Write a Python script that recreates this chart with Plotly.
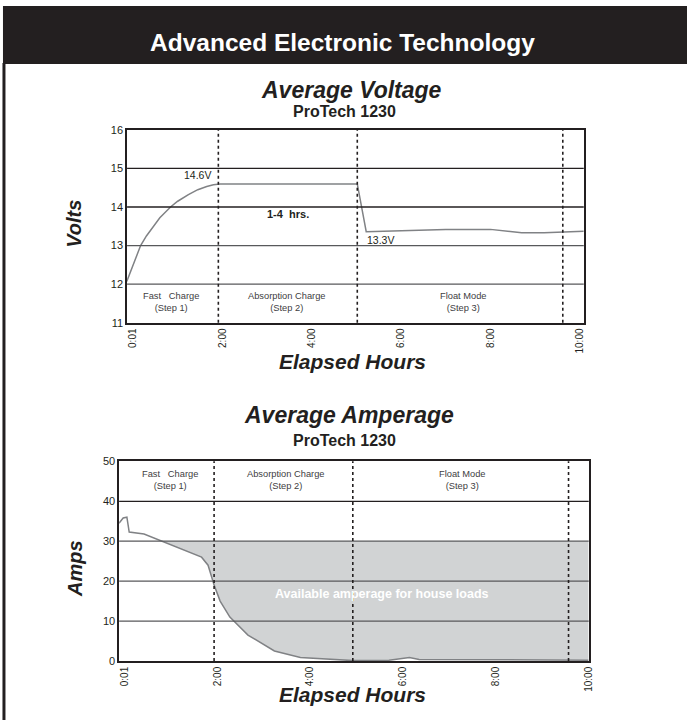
import plotly.graph_objects as go

# ---------------- data ----------------
tick_hours = [0, 2, 4, 6, 8, 10]
tick_labels = ["0:01", "2:00", "4:00", "6:00", "8:00", "10:00"]

volt_hours = [-0.14, -0.05, 0.05, 0.17, 0.3, 0.45, 0.6, 0.84, 1.0, 1.24, 1.45, 1.65, 1.8, 1.95,
              5.02, 5.22, 6.28, 7.0, 8.0, 8.45, 8.7, 9.2, 9.7, 10.09]
volt_values = [12.07, 12.35, 12.65, 13.0, 13.25, 13.5, 13.72, 14.0, 14.15, 14.32, 14.45, 14.53, 14.58, 14.6,
               14.6, 13.36, 13.39, 13.42, 13.42, 13.37, 13.33, 13.33, 13.35, 13.37]
volt_ticks = [11, 12, 13, 14, 15, 16]
volt_grid = [12, 13, 14, 15]
volt_phase_bounds = [1.91, 5.02, 9.62]

amp_hours = [-0.12, -0.03, 0.05, 0.1, 0.42, 0.8, 1.2, 1.66, 1.8, 1.93, 2.06, 2.27, 2.66,
             3.23, 3.79, 4.5, 4.92, 5.7, 6.0, 6.14, 6.35, 8.0, 9.5, 9.85, 10.0]
amp_values = [34.5, 35.8, 36.0, 32.3, 31.8, 30.0, 28.1, 26.0, 24.0, 19.0, 15.0, 11.0, 6.5,
              2.5, 0.9, 0.3, 0.1, 0.2, 0.7, 0.9, 0.4, 0.35, 0.35, 0.3, 0.2]
amp_ticks = [0, 10, 20, 30, 40, 50]
amp_grid = [10, 20, 30, 40]
amp_phase_bounds = [1.93, 4.92, 9.57]
house_load_limit = 30

phase_names = ["Fast   Charge<br>(Step 1)", "Absorption Charge<br>(Step 2)", "Float Mode<br>(Step 3)"]
volt_phase_centers = [0.84, 3.44, 7.4]
amp_phase_centers = [0.99, 3.49, 7.29]

# ---------------- helpers ----------------
W, H = 692, 726


def px(x):
    return x / W


def py(y):
    return 1 - y / H


FONT = "Liberation Sans Narrow, Arial Narrow, Liberation Sans, Arial, sans-serif"
INK = "#231f20"
CURVE = "#808285"
FILL = "#d1d3d4"

fig = go.Figure()

# voltage curve
fig.add_trace(go.Scatter(x=volt_hours, y=volt_values, mode="lines", xaxis="x", yaxis="y",
                         line=dict(color=CURVE, width=1.5),
                         hoverinfo="skip", showlegend=False))

# amperage: available region (between curve and the house-load limit)
start = amp_values.index(house_load_limit)
fill_x = amp_hours[start:]
fill_y = amp_values[start:]
fig.add_trace(go.Scatter(x=[fill_x[0], fill_x[-1]], y=[house_load_limit, house_load_limit],
                         mode="lines", xaxis="x2", yaxis="y2", line=dict(width=0, color=FILL),
                         hoverinfo="skip", showlegend=False))
fig.add_trace(go.Scatter(x=fill_x, y=fill_y, mode="lines", xaxis="x2", yaxis="y2",
                         fill="tonexty", fillcolor=FILL, line=dict(width=0, color=FILL),
                         hoverinfo="skip", showlegend=False))
fig.add_trace(go.Scatter(x=amp_hours, y=amp_values, mode="lines", xaxis="x2", yaxis="y2",
                         line=dict(color=CURVE, width=1.5), hoverinfo="skip", showlegend=False))

shapes = []
# header band
shapes.append(dict(type="rect", xref="paper", yref="paper", x0=px(3), x1=1, y0=py(59), y1=1,
                   fillcolor=INK, line=dict(width=0), layer="below"))
# left border line
shapes.append(dict(type="line", xref="paper", yref="paper", x0=px(4), x1=px(4), y0=0, y1=py(58),
                   line=dict(color=INK, width=3)))

for v in volt_grid:
    col = INK if v >= 14 else "#58595b"
    shapes.append(dict(type="line", xref="x domain", yref="y", x0=0, x1=1, y0=v, y1=v,
                       line=dict(color=col, width=1.3), layer="above"))
for a in amp_grid:
    col = INK if a >= 40 else "#58595b"
    shapes.append(dict(type="line", xref="x2 domain", yref="y2", x0=0, x1=1, y0=a, y1=a,
                       line=dict(color=col, width=1.3), layer="above"))
for b in volt_phase_bounds:
    shapes.append(dict(type="line", xref="x", yref="y domain", x0=b, x1=b, y0=0, y1=1,
                       line=dict(color=INK, width=1.6, dash="dot"), layer="above"))
for b in amp_phase_bounds:
    shapes.append(dict(type="line", xref="x2", yref="y2 domain", x0=b, x1=b, y0=0, y1=1,
                       line=dict(color=INK, width=1.6, dash="dot"), layer="above"))

ann = []


def text(x, y, s, size, color=INK, bold=True, italic=False, xref="paper", yref="paper",
         xanchor="center", yanchor="middle", angle=0):
    t = s
    if bold:
        t = "<b>" + t + "</b>"
    if italic:
        t = "<i>" + t + "</i>"
    ann.append(dict(x=x, y=y, xref=xref, yref=yref, text=t, showarrow=False,
                    font=dict(family=FONT, size=size, color=color),
                    xanchor=xanchor, yanchor=yanchor, textangle=angle))


text(px(345), py(37), "Advanced Electronic Technology", 24.5, color="white")
text(px(354), py(85), "Average Voltage", 23, italic=True)
text(px(347), py(107), "ProTech 1230", 16)
text(px(75), py(221), "Volts", 20, italic=True, angle=-90)
text(px(355), py(361), "Elapsed Hours", 21, italic=True)

text(px(352), py(416), "Average Amperage", 23, italic=True)
text(px(347), py(442), "ProTech 1230", 16)
text(px(75), py(572), "Amps", 20, italic=True, angle=-90)
text(px(355), py(700), "Elapsed Hours", 21, italic=True)

# voltage annotations
text(1.8, 14.83, "14.6V", 10.5, bold=False, xref="x", yref="y", xanchor="right")
text(3.47, 13.81, "1-4  hrs.", 11, xref="x", yref="y")
text(5.2, 13.14, "13.3V", 10.5, bold=False, xref="x", yref="y", xanchor="left")
for c, n in zip(volt_phase_centers, phase_names):
    text(c, 11.54, n, 9.3, color="#414042", bold=False, xref="x", yref="y")
for c, n in zip(amp_phase_centers, phase_names):
    text(c, 45.4, n, 9.3, color="#414042", bold=False, xref="x2", yref="y2")
text(5.54, 16.7, "Available amperage for house loads", 12.5, color="white", xref="x2", yref="y2")

base = dict(showgrid=False, zeroline=False, showline=True, mirror=True, linecolor=INK,
            linewidth=1.6, ticks="", fixedrange=True)
yfont = dict(family=FONT, size=11, color=INK)
xfont = dict(family=FONT, size=10, color=INK)

fig.update_layout(
    width=W, height=H, margin=dict(l=0, r=0, t=0, b=0),
    paper_bgcolor="white", plot_bgcolor="white",
    shapes=shapes, annotations=ann, showlegend=False,
    xaxis=dict(domain=[px(128), px(588)], range=[-0.133, 10.089], anchor="y",
               tickvals=tick_hours, ticktext=tick_labels, tickangle=-90, tickfont=xfont, **base),
    yaxis=dict(domain=[py(322), py(126)], range=[11, 16], anchor="x", tickvals=volt_ticks,
               tickfont=yfont, **base),
    xaxis2=dict(domain=[px(120), px(593)], range=[-0.117, 10.005], anchor="y2",
                tickvals=tick_hours, ticktext=tick_labels, tickangle=-90, tickfont=xfont, **base),
    yaxis2=dict(domain=[py(666), py(463)], range=[0, 50], anchor="x2", tickvals=amp_ticks,
                tickfont=yfont, **base),
)

page_fix = (
    "document.documentElement.style.margin='0';"
    "document.documentElement.style.overflow='hidden';"
    "document.body.style.margin='0';document.body.style.overflow='hidden';"
    "var d=document.getElementById('{plot_id}');"
    "d.style.position='fixed';d.style.left='0px';d.style.top='0px';"
)
fig.write_html("out.html", config={"displayModeBar": False}, post_script=page_fix)
